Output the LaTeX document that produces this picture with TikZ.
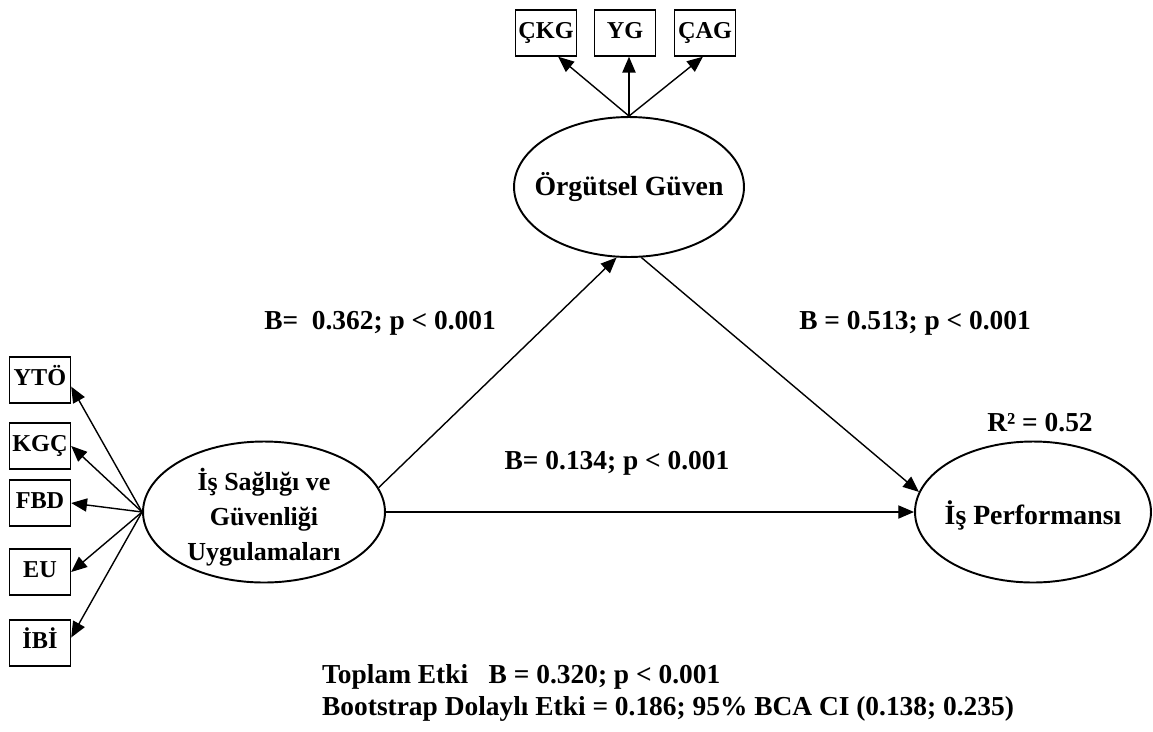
\documentclass[tikz,border=0pt]{standalone}
\usepackage{fontspec}
\setmainfont{Liberation Serif}
\usetikzlibrary{arrows.meta,shapes.geometric}
\tikzset{
  gosterge/.style={draw,line width=0.8pt,minimum width=1.22cm,minimum height=0.92cm,inner sep=0.5pt,text height=0.68em,text depth=0pt,font=\fontsize{13.8}{16}\selectfont\bfseries},
  gizil/.style={draw,ellipse,line width=1.1pt,inner sep=0pt},
  yazi/.style={align=center,font=\fontsize{15.8}{20}\selectfont\bfseries},
  yol/.style={line width=0.8pt,-{Triangle[length=9pt,width=7.5pt]}},
  etiket/.style={font=\fontsize{15.6}{18}\selectfont\bfseries}
}
\begin{document}
\begin{tikzpicture}[x=0.02cm,y=-0.02cm]
\useasboundingbox (0,0) rectangle (1153,731);
%latent
\node[gizil,minimum width=4.6cm,minimum height=2.8cm] (og) at (629,187) {};
\node[yazi] (ogt) at (og.center) {Örgütsel Güven};
\node[gizil,minimum width=4.84cm,minimum height=2.82cm] (isg) at (264,512) {};
\node[yazi,font=\fontsize{14.8}{20}\selectfont\bfseries] (isgt) at ([yshift=-3]isg.center) {İş Sağlığı ve\\Güvenliği\\Uygulamaları};
\node[gizil,minimum width=4.72cm,minimum height=2.82cm] (ip) at (1033,512) {};
\node[yazi] (ipt) at ([yshift=-2]ip.center) {İş Performansı};
%indicators
\node[gosterge] (ckg) at (546,33) {ÇKG};
\node[gosterge] (yg) at (625,33) {YG};
\node[gosterge] (cag) at (705,33) {ÇAG};
\node[gosterge] (yto) at (40,380) {YTÖ};
\node[gosterge] (kgc) at (40,446) {KGÇ};
\node[gosterge] (fbd) at (40,503) {FBD};
\node[gosterge] (eu) at (40,572) {EU};
\node[gosterge] (ibi) at (40,643) {İBİ};
%
\draw[yol] (og.north) -- (ckg.-63);
\draw[yol] (og.north) -- (og.north |- yg.south);
\draw[yol] (og.north) -- (cag.-95);
\draw[yol] (isg.west) -- (yto.-12);
\draw[yol] (isg.west) -- (kgc.east);
\draw[yol] (isg.west) -- (fbd.east);
\draw[yol] (isg.west) -- (eu.east);
\draw[yol] (isg.west) -- (ibi.10);
%paths
\draw[yol] (isg.12) -- (og.-100);
\draw[yol] (og.-80) -- (ip.170);
\draw[yol] (isg.east) -- (ip.west);
%labels
\node[etiket] (a) at (380,323) {B=\ \ 0.362; p < 0.001};
\node[etiket] (b) at (915,323) {B = 0.513; p < 0.001};
\node[etiket] (c) at (617,463) {B= 0.134; p < 0.001};
\node[etiket] (r) at (1040,423) {R² = 0.52};
\node[etiket,anchor=west] (top) at (316,677) {Toplam Etki\ \ \ B = 0.320; p < 0.001};
\node[etiket,anchor=west] (boot) at (316,709) {Bootstrap Dolaylı Etki = 0.186; 95\% BCA CI (0.138; 0.235)};
\end{tikzpicture}
\end{document}
